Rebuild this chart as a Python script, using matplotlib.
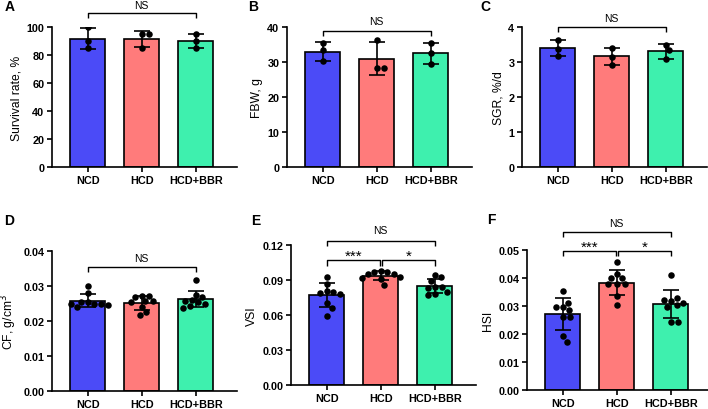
import numpy as np
import matplotlib.pyplot as plt

plt.rcParams['font.family'] = ['Liberation Sans', 'DejaVu Sans']

groups = ['NCD', 'HCD', 'HCD+BBR']
colors = ['#4B4BF7', '#FF7B7B', '#3EF0AE']

# individual values per group (NCD, HCD, HCD+BBR)
survival = [[100, 90, 85], [95, 95, 85], [95, 90, 85]]
fbw = [[35.5, 33.3, 30.2], [36.3, 28.3, 28.3], [35.5, 32.5, 29.3]]
sgr = [[3.62, 3.38, 3.17], [3.41, 3.15, 2.92], [3.50, 3.34, 3.08]]
cf = [[0.030, 0.028, 0.0255, 0.025, 0.0255, 0.025, 0.024, 0.025, 0.0245],
      [0.0272, 0.0272, 0.0268, 0.0258, 0.0256, 0.0253, 0.024, 0.0225, 0.0217],
      [0.0317, 0.0275, 0.027, 0.026, 0.0258, 0.0255, 0.025, 0.0242, 0.0238]]
vsi = [[0.093, 0.087, 0.081, 0.080, 0.079, 0.078, 0.070, 0.066, 0.059],
       [0.098, 0.097, 0.097, 0.095, 0.095, 0.093, 0.091, 0.092, 0.086],
       [0.094, 0.093, 0.089, 0.084, 0.084, 0.083, 0.080, 0.078, 0.077]]
hsi = [[0.0355, 0.0295, 0.0285, 0.031, 0.0298, 0.026, 0.026, 0.0192, 0.0173],
       [0.0456, 0.0414, 0.040, 0.040, 0.0379, 0.0379, 0.038, 0.0337, 0.0304],
       [0.0412, 0.0317, 0.0329, 0.0321, 0.0305, 0.0298, 0.031, 0.0242, 0.0242]]

W, H = 708, 410

def swarm_offsets(vals, ymax, px_x=54.0, px_h=140.0, d=6.6):
   """Simple beeswarm: push overlapping dots sideways (pixel space)."""
   placed = []; offs = []
   cands = [0.0]
   for i in range(1, 60):
      cands += [i * 0.5, -i * 0.5]
   for v in vals:
      y = v / ymax * px_h
      for x in cands:
         if all((x - px) ** 2 + (y - py) ** 2 >= d * d for px, py in placed):
            break
      placed.append((x, y)); offs.append(x / px_x)
   return offs

def bracket(ax, x1, x2, y, h, text, ty, fs=7.5):
   ax.plot([x1, x1, x2, x2], [y - h, y, y, y - h], color='black', lw=1.0,
           clip_on=False, solid_capstyle='butt')
   ax.text((x1 + x2) / 2, ty, text, ha='center', va='center', fontsize=fs)

# panel: letter, data, ylabel, ymax, yticks, fmt, axes px (left, bottom), letter px, brackets
panels = [
   ('A', survival, 'Survival rate, %', 100, np.arange(0, 101, 20), '%d', (52, 242), (10, 7),
    [(0, 2, 110, 3.5, 'NS', 116)]),
   ('B', fbw, 'FBW, g', 40, np.arange(0, 41, 10), '%d', (287, 242), (253, 7),
    [(0, 2, 38.9, 1.4, 'NS', 41.8)]),
   ('C', sgr, 'SGR, %/d', 4, np.arange(0, 5, 1), '%d', (522, 242), (485, 7),
    [(0, 2, 4.0, 0.15, 'NS', 4.27)]),
   ('D', cf, 'CF, g/cm$^3$', 0.04, np.arange(0, 0.041, 0.01), '%.2f', (52, 18), (9, 221),
    [(0, 2, 0.0353, 0.0014, 'NS', 0.038)]),
   ('E', vsi, 'VSI', 0.12, np.arange(0, 0.121, 0.03), '%.2f', (291, 24), (256, 221),
    [(0, 2, 0.1234, 0.0044, 'NS', 0.1325),
     (0, 0.985, 0.107, 0.005, '***', 0.1105),
     (1.015, 2, 0.107, 0.005, '*', 0.1105)]),
   ('F', hsi, 'HSI', 0.05, np.arange(0, 0.051, 0.01), '%.2f', (527, 19), (491, 220),
    [(0, 2, 0.0565, 0.0018, 'NS', 0.0598),
     (0, 0.985, 0.0498, 0.0018, '***', 0.0511),
     (1.015, 2, 0.0498, 0.0018, '*', 0.0511)]),
]

fig = plt.figure(figsize=(W / 100, H / 100), dpi=100)

for letter, data, ylabel, ymax, yticks, fmt, (lx, by), (tx, ty), brackets in panels:
   ax = fig.add_axes([lx / W, by / H, 185 / W, 140 / H])
   x = np.arange(len(groups))
   means = [np.mean(d) for d in data]
   sds = [np.std(d, ddof=1) for d in data]
   ax.bar(x, means, width=0.65, color=colors, edgecolor='black', linewidth=1.2, zorder=2)
   ax.errorbar(x, means, yerr=sds, fmt='none', ecolor='black', elinewidth=1.2,
               capsize=6, capthick=1.2, zorder=3)
   for i, d in enumerate(data):
      offs = swarm_offsets(d, ymax)
      ax.scatter(i + np.array(offs), d, s=22, color='black', zorder=4, linewidths=0)
   ax.set_xlim(-0.66, 2.76)
   ax.set_ylim(0, ymax)
   ax.set_yticks(yticks)
   ax.set_yticklabels([fmt % t for t in yticks])
   ax.set_xticks(x)
   ax.set_xticklabels(groups)
   for lab in ax.get_xticklabels() + ax.get_yticklabels():
      lab.set_fontweight('bold'); lab.set_fontsize(7.8)
   ax.tick_params(axis='both', width=1.2, length=3.5, pad=2)
   ax.spines['top'].set_visible(False)
   ax.spines['right'].set_visible(False)
   for s in ('left', 'bottom'):
      ax.spines[s].set_linewidth(1.2)
   ax.set_ylabel(ylabel, fontsize=8.7, labelpad=3)
   for x1, x2, y, h, text, tyy in brackets:
      bracket(ax, x1, x2, y, h, text, tyy, fs=11 if '*' in text else 7.5)
   fig.text(tx / W, 1 - ty / H, letter, fontsize=10, fontweight='bold', ha='center', va='center')

fig.savefig('out.png', dpi=100)
